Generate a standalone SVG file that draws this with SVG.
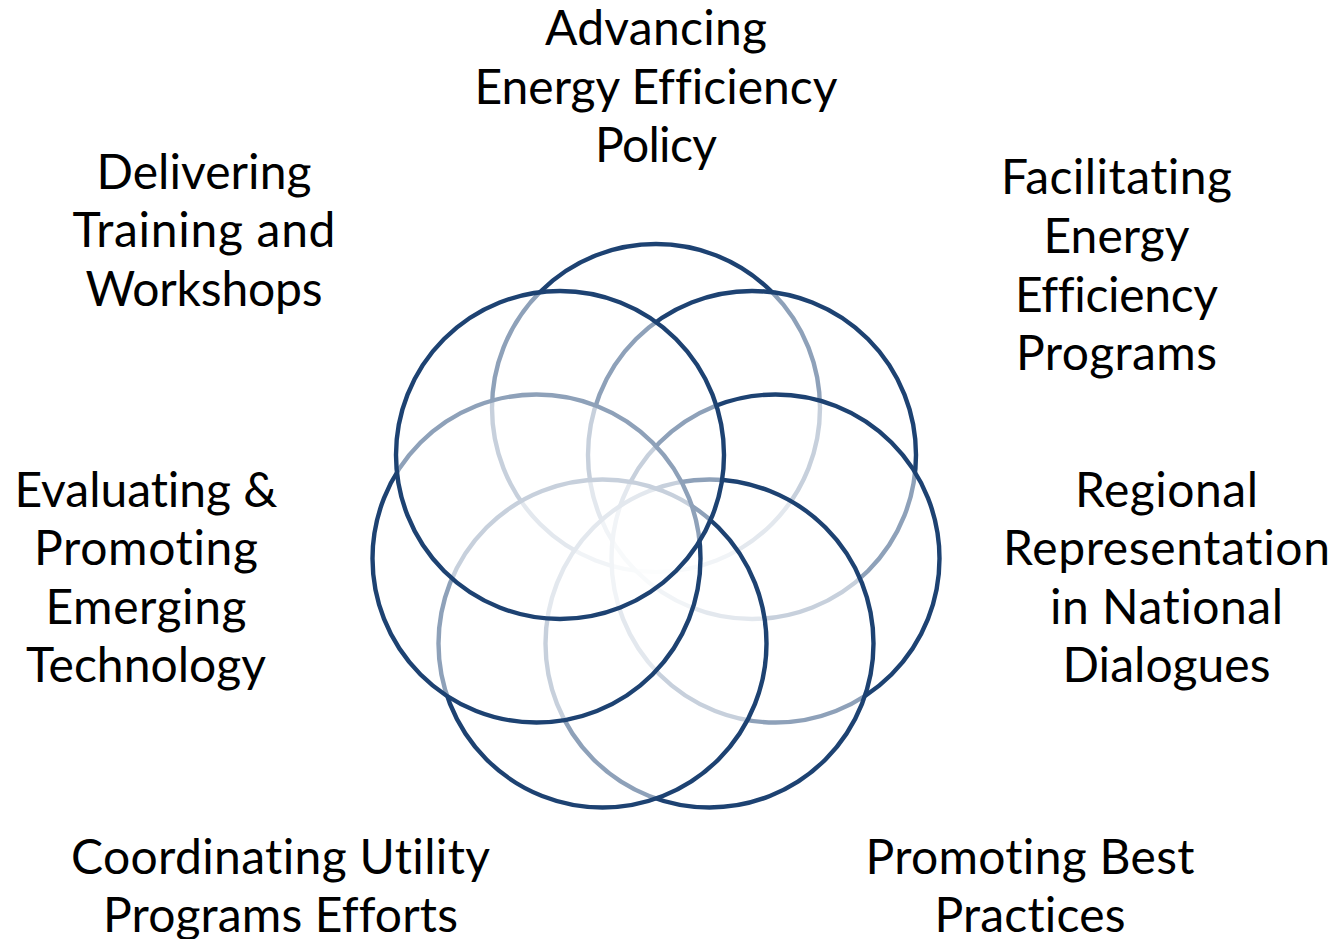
<svg xmlns="http://www.w3.org/2000/svg" width="1337" height="939" viewBox="0 0 1337 939">
<style>
.c{fill:#ffffff;fill-opacity:0.5;stroke:#1D4272;stroke-width:4.4}
.t{font-family:Lato,"Liberation Sans",sans-serif;font-size:48px;fill:#000000;text-anchor:middle;font-variant-ligatures:none;font-feature-settings:"liga" 0,"dlig" 0}
</style>
<rect width="1337" height="939" fill="#ffffff"/>
<g id="circles">
<g id="c-top"><circle class="c" cx="656" cy="408" r="164"/></g>
<g id="c-topright"><circle class="c" cx="752" cy="455" r="164"/></g>
<g id="c-right"><circle class="c" cx="775.5" cy="558.5" r="164"/></g>
<g id="c-bottomright"><circle class="c" cx="709.5" cy="643.5" r="164"/></g>
<g id="c-bottomleft"><circle class="c" cx="602.5" cy="643.5" r="164"/></g>
<g id="c-left"><circle class="c" cx="536.5" cy="558.5" r="164"/></g>
<g id="c-topleft"><circle class="c" cx="560" cy="455" r="164"/></g>
</g>
<g id="connectors"/>
<g id="label-top">
<text class="t" x="656" y="45" textLength="222">Advancing</text>
<text class="t" x="656" y="104" textLength="363">Energy Efficiency</text>
<text class="t" x="656" y="162" textLength="122">Policy</text>
</g>
<g id="label-topleft">
<text class="t" x="204" y="189" textLength="215">Delivering</text>
<text class="t" x="204" y="247" textLength="263">Training and</text>
<text class="t" x="204" y="306" textLength="237">Workshops</text>
</g>
<g id="label-topright">
<text class="t" x="1116.5" y="194" textLength="231">Facilitating</text>
<text class="t" x="1116.5" y="253" textLength="146">Energy</text>
<text class="t" x="1116.5" y="311.5" textLength="203">Efficiency</text>
<text class="t" x="1116.5" y="370" textLength="201">Programs</text>
</g>
<g id="label-right">
<text class="t" x="1166.5" y="506.5" textLength="183">Regional</text>
<text class="t" x="1166.5" y="565" textLength="327">Representation</text>
<text class="t" x="1166.5" y="623.5" textLength="233">in National</text>
<text class="t" x="1166.5" y="681.5" textLength="208">Dialogues</text>
</g>
<g id="label-left">
<text class="t" x="146" y="506.5" textLength="263">Evaluating &amp;</text>
<text class="t" x="146" y="565" textLength="224">Promoting</text>
<text class="t" x="146" y="623.5" textLength="201">Emerging</text>
<text class="t" x="146" y="681.5" textLength="240">Technology</text>
</g>
<g id="label-bottomleft">
<text class="t" x="280.5" y="873.5" textLength="419">Coordinating Utility</text>
<text class="t" x="280.5" y="932" textLength="355">Programs Efforts</text>
</g>
<g id="label-bottomright">
<text class="t" x="1030" y="873.5" textLength="329">Promoting Best</text>
<text class="t" x="1030" y="932" textLength="191">Practices</text>
</g>
</svg>
